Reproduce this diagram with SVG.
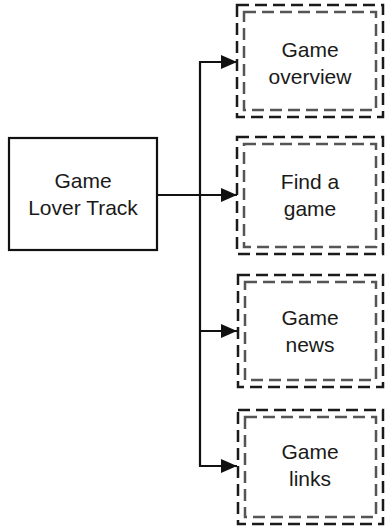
<svg xmlns="http://www.w3.org/2000/svg" width="385" height="527" viewBox="0 0 385 527">
<defs>
<style>
.lbl{font-family:"Liberation Sans",Arial,sans-serif;font-size:21px;fill:#1a1a1a;text-anchor:middle}
.main{fill:#fff;stroke:#111;stroke-width:2.2}
.outer{fill:#fff;stroke:#1a1a1a;stroke-width:2.5;stroke-dasharray:12 6}
.inner{fill:none;stroke:#555;stroke-width:2.5;stroke-dasharray:12 6}
.conn{fill:none;stroke:#111;stroke-width:2.2}
</style>
<marker id="arr" viewBox="0 0 16 14" refX="16" refY="7" markerWidth="16" markerHeight="14" markerUnits="userSpaceOnUse" orient="auto">
<path d="M0,0 L16,7 L0,14 Z" fill="#111"/>
</marker>
</defs>
<rect width="385" height="527" fill="#fff"/>
<g id="connectors">
<line class="conn" x1="157" y1="195" x2="237" y2="195" marker-end="url(#arr)"/>
<line class="conn" x1="200" y1="62" x2="200" y2="466"/>
<line class="conn" x1="199" y1="62" x2="237" y2="62" marker-end="url(#arr)"/>
<line class="conn" x1="199" y1="331" x2="237" y2="331" marker-end="url(#arr)"/>
<line class="conn" x1="199" y1="466" x2="237" y2="466" marker-end="url(#arr)"/>
</g>
<g id="main">
<rect class="main" x="9" y="138" width="148" height="112"/>
<text class="lbl" x="83" y="188">Game</text>
<text class="lbl" x="83" y="215">Lover Track</text>
</g>
<g id="overview">
<rect class="outer" x="237" y="5" width="146" height="112"/>
<rect class="inner" x="244" y="12" width="132" height="98"/>
<text class="lbl" x="310" y="57">Game</text>
<text class="lbl" x="310" y="84">overview</text>
</g>
<g id="find">
<rect class="outer" x="237" y="137" width="146" height="117"/>
<rect class="inner" x="244" y="144" width="132" height="103"/>
<text class="lbl" x="310" y="189">Find a</text>
<text class="lbl" x="310" y="216">game</text>
</g>
<g id="news">
<rect class="outer" x="238" y="275" width="145" height="112"/>
<rect class="inner" x="245" y="282" width="131" height="98"/>
<text class="lbl" x="310" y="325">Game</text>
<text class="lbl" x="310" y="352">news</text>
</g>
<g id="links">
<rect class="outer" x="238" y="410" width="145" height="114"/>
<rect class="inner" x="245" y="417" width="131" height="100"/>
<text class="lbl" x="310" y="459">Game</text>
<text class="lbl" x="310" y="486">links</text>
</g>
</svg>
